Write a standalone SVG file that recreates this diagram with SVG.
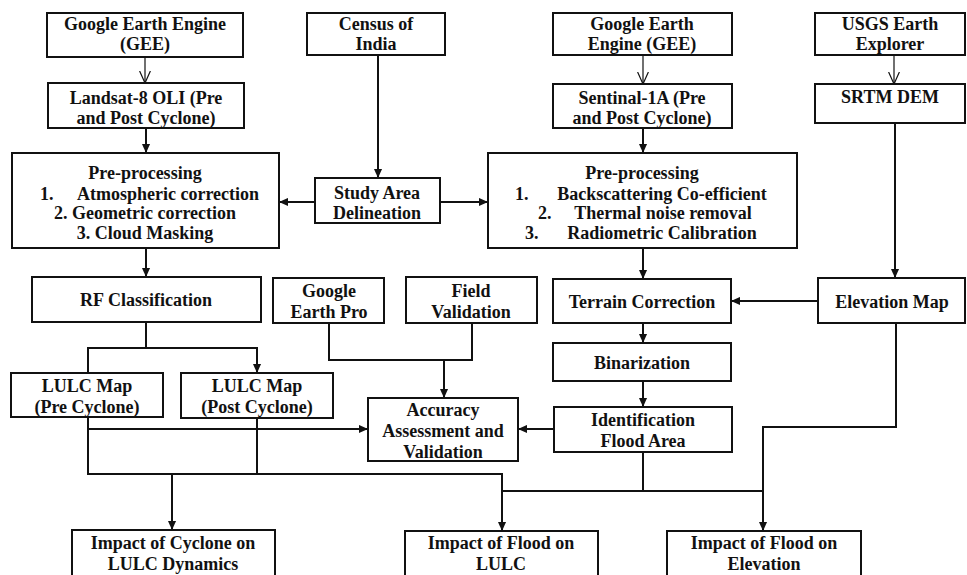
<svg xmlns="http://www.w3.org/2000/svg" width="967" height="575" viewBox="0 0 967 575">
<defs>
<style>
.box{fill:#fff;stroke:#111;stroke-width:2}
text{font-family:"Liberation Serif","Times New Roman",serif;font-weight:bold;font-size:18px;fill:#111;text-anchor:middle}
.ln{fill:none;stroke:#111;stroke-width:2}
.thin{fill:none;stroke:#111;stroke-width:1.2}
</style>
<marker id="ah" viewBox="0 0 10 10" refX="10" refY="5" markerWidth="9" markerHeight="9" markerUnits="userSpaceOnUse" orient="auto">
<path d="M0,0.5 L10,5 L0,9.5 z" fill="#111"/>
</marker>
<marker id="oa" viewBox="0 0 10 10" refX="10" refY="5" markerWidth="12" markerHeight="12" markerUnits="userSpaceOnUse" orient="auto">
<path d="M0,0.5 L10,5 L0,9.5" fill="none" stroke="#111" stroke-width="1"/>
</marker>
</defs>
<rect width="967" height="575" fill="#fff"/>

<g id="connectors">
<line class="thin" x1="145" y1="57" x2="145" y2="83" marker-end="url(#oa)"/>
<line class="thin" x1="643" y1="55" x2="643" y2="84" marker-end="url(#oa)"/>
<line class="thin" x1="894" y1="55" x2="894" y2="84" marker-end="url(#oa)"/>
<line class="ln" x1="146" y1="128" x2="146" y2="153" marker-end="url(#ah)"/>
<line class="ln" x1="643" y1="128" x2="643" y2="153" marker-end="url(#ah)"/>
<line class="ln" x1="378" y1="55" x2="378" y2="178" marker-end="url(#ah)"/>
<line class="ln" x1="315" y1="202" x2="279" y2="202" marker-end="url(#ah)"/>
<line class="ln" x1="440" y1="202" x2="488" y2="202" marker-end="url(#ah)"/>
<line class="ln" x1="895" y1="123" x2="895" y2="278" marker-end="url(#ah)"/>
<line class="ln" x1="146" y1="248" x2="146" y2="277" marker-end="url(#ah)"/>
<line class="ln" x1="643" y1="248" x2="643" y2="279" marker-end="url(#ah)"/>
<line class="ln" x1="818" y1="301" x2="731" y2="301" marker-end="url(#ah)"/>
<polyline class="ln" points="146,322 146,348"/>
<polyline class="ln" points="88,373 88,348 257,348 257,373" marker-start="url(#ah)" marker-end="url(#ah)"/>
<polyline class="ln" points="329,323 329,360 472,360 472,323"/>
<line class="ln" x1="444" y1="360" x2="444" y2="398" marker-end="url(#ah)"/>
<line class="ln" x1="643" y1="323" x2="643" y2="343" marker-end="url(#ah)"/>
<line class="ln" x1="643" y1="381" x2="643" y2="407" marker-end="url(#ah)"/>
<line class="ln" x1="554" y1="429" x2="518" y2="429" marker-end="url(#ah)"/>
<line class="ln" x1="88" y1="429" x2="368" y2="429" marker-end="url(#ah)"/>
<polyline class="ln" points="88,417 88,474 502,474 502,531" marker-end="url(#ah)"/>
<line class="ln" x1="257" y1="418" x2="257" y2="474"/>
<line class="ln" x1="172" y1="474" x2="172" y2="530" marker-end="url(#ah)"/>
<polyline class="ln" points="643,452 643,491 502,491"/>
<line class="ln" x1="643" y1="491" x2="763" y2="491"/>
<polyline class="ln" points="896,323 896,427 763,427 763,531" marker-end="url(#ah)"/>
</g>

<g id="gee1"><rect class="box" x="47" y="13" width="196" height="44"/><text x="145" y="30">Google Earth Engine</text><text x="145" y="50">(GEE)</text></g>
<g id="census"><rect class="box" x="307" y="13" width="138" height="42"/><text x="376" y="30">Census of</text><text x="376" y="50">India</text></g>
<g id="gee2"><rect class="box" x="553" y="13" width="179" height="42"/><text x="642" y="30">Google Earth</text><text x="642" y="50">Engine (GEE)</text></g>
<g id="usgs"><rect class="box" x="815" y="13" width="150" height="42"/><text x="890" y="30">USGS Earth</text><text x="890" y="50">Explorer</text></g>
<g id="landsat"><rect class="box" x="48" y="83" width="196" height="45"/><text x="146" y="104">Landsat-8 OLI (Pre</text><text x="146" y="124">and Post Cyclone)</text></g>
<g id="sentinal"><rect class="box" x="553" y="84" width="179" height="44"/><text x="642" y="104">Sentinal-1A (Pre</text><text x="642" y="124">and Post Cyclone)</text></g>
<g id="srtm"><rect class="box" x="815" y="84" width="150" height="39"/><text x="890" y="103">SRTM DEM</text></g>
<g id="preproc1"><rect class="box" x="12" y="153" width="267" height="95"/>
<text x="145" y="179">Pre-processing</text>
<text x="40" y="200" style="text-anchor:start">1.</text><text x="168" y="200">Atmospheric correction</text>
<text x="145" y="219">2. Geometric correction</text>
<text x="145" y="239">3. Cloud Masking</text></g>
<g id="study"><rect class="box" x="315" y="178" width="125" height="45"/><text x="377" y="199">Study Area</text><text x="377" y="219">Delineation</text></g>
<g id="preproc2"><rect class="box" x="488" y="153" width="309" height="95"/>
<text x="642" y="179">Pre-processing</text>
<text x="515" y="200" style="text-anchor:start">1.</text><text x="662" y="200">Backscattering Co-efficient</text>
<text x="538" y="219" style="text-anchor:start">2.</text><text x="663" y="219">Thermal noise removal</text>
<text x="525" y="239" style="text-anchor:start">3.</text><text x="662" y="239">Radiometric Calibration</text></g>
<g id="rf"><rect class="box" x="32" y="277" width="229" height="45"/><text x="146" y="306">RF Classification</text></g>
<g id="gep"><rect class="box" x="273" y="278" width="111" height="45"/><text x="329" y="297">Google</text><text x="329" y="318">Earth Pro</text></g>
<g id="field"><rect class="box" x="406" y="277" width="131" height="46"/><text x="471" y="297">Field</text><text x="471" y="318">Validation</text></g>
<g id="terrain"><rect class="box" x="553" y="279" width="178" height="44"/><text x="642" y="308">Terrain Correction</text></g>
<g id="elevation"><rect class="box" x="818" y="278" width="147" height="45"/><text x="892" y="308">Elevation Map</text></g>
<g id="binarization"><rect class="box" x="553" y="343" width="178" height="38"/><text x="642" y="369">Binarization</text></g>
<g id="lulc1"><rect class="box" x="11" y="373" width="152" height="44"/><text x="87" y="392">LULC Map</text><text x="87" y="413">(Pre Cyclone)</text></g>
<g id="lulc2"><rect class="box" x="181" y="373" width="152" height="45"/><text x="257" y="392">LULC Map</text><text x="257" y="413">(Post Cyclone)</text></g>
<g id="accuracy"><rect class="box" x="368" y="398" width="150" height="63"/><text x="443" y="416">Accuracy</text><text x="443" y="437">Assessment and</text><text x="443" y="458">Validation</text></g>
<g id="flood"><rect class="box" x="554" y="407" width="178" height="45"/><text x="643" y="426">Identification</text><text x="643" y="447">Flood Area</text></g>
<g id="impact1"><rect class="box" x="72" y="530" width="203" height="50"/><text x="173" y="549">Impact of Cyclone on</text><text x="173" y="570">LULC Dynamics</text></g>
<g id="impact2"><rect class="box" x="405" y="531" width="193" height="49"/><text x="501" y="549">Impact of Flood on</text><text x="501" y="570">LULC</text></g>
<g id="impact3"><rect class="box" x="667" y="531" width="194" height="49"/><text x="764" y="549">Impact of Flood on</text><text x="764" y="570">Elevation</text></g>
</svg>
